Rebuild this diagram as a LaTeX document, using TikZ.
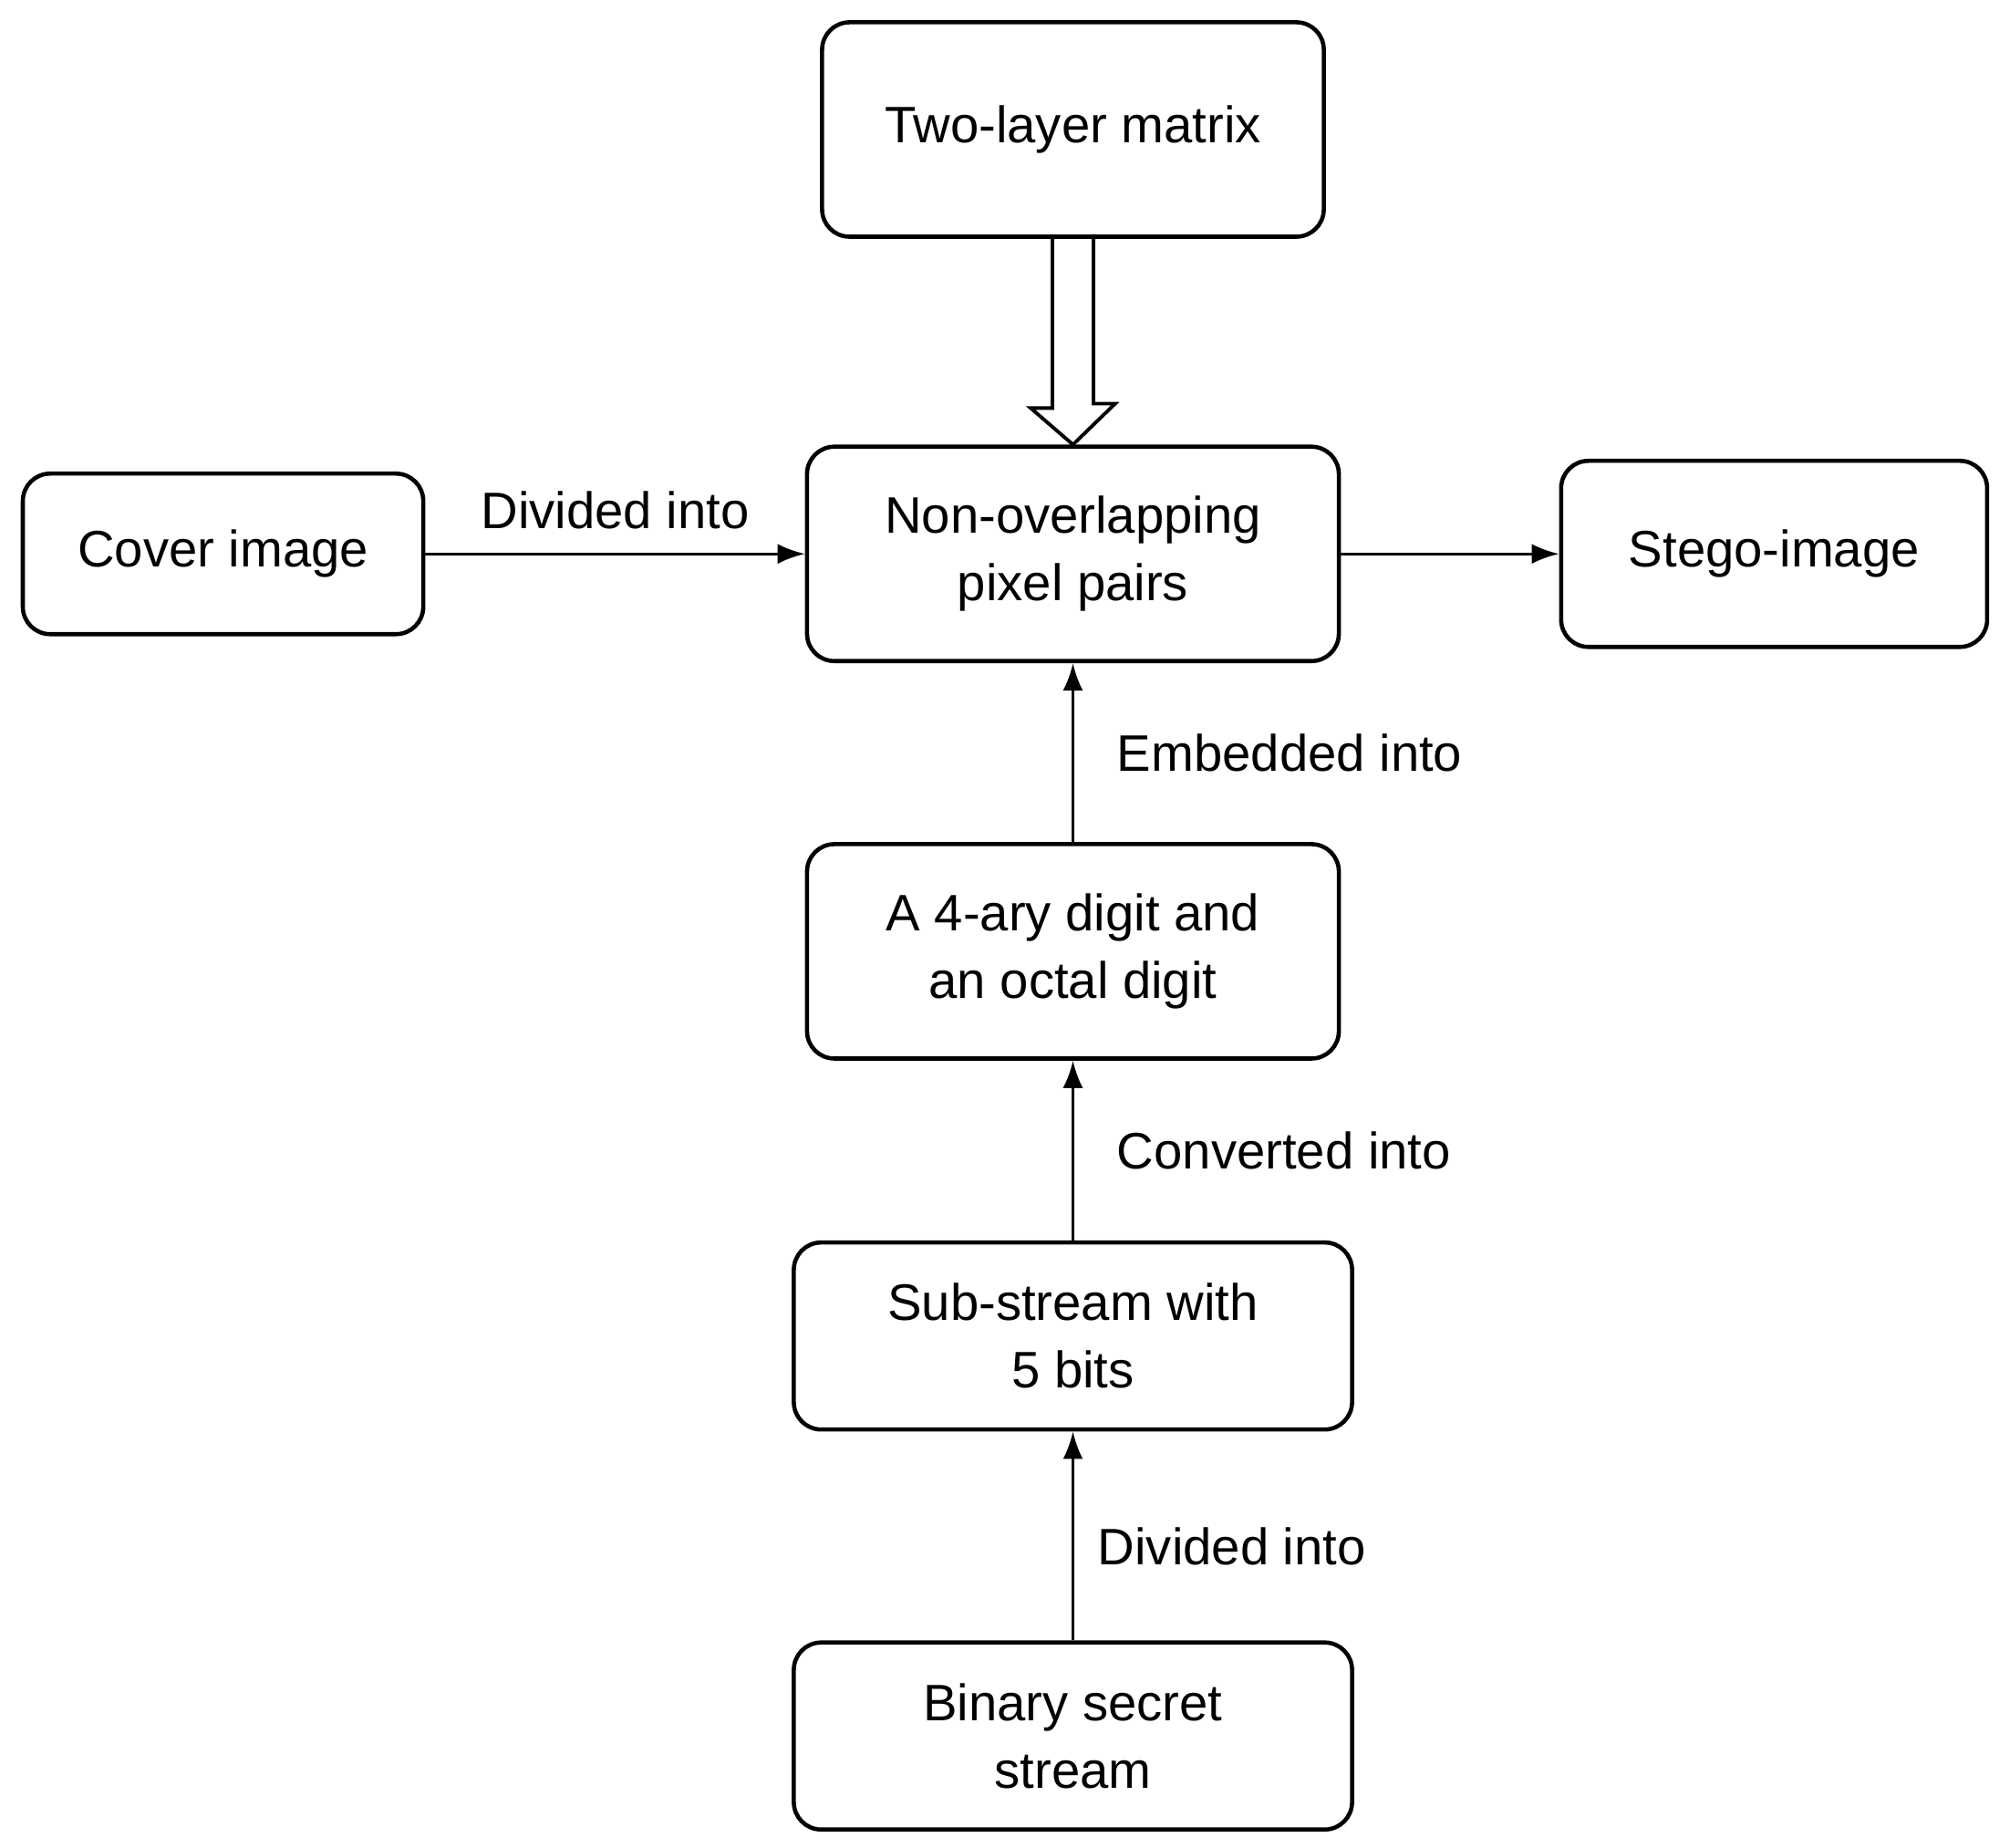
\documentclass[tikz,border=0pt]{standalone}
\usepackage{fontspec}
\setmainfont{Liberation Sans}
\usetikzlibrary{arrows.meta}
\begin{document}
\begin{tikzpicture}
    [ x=0.01406cm, y=-0.01406cm
    , block/.style={draw, line width=1.3pt, rounded corners=0.3cm, align=center, font=\fontsize{16}{21}\selectfont, inner sep=0pt}
    , lbl/.style={font=\fontsize{16}{21}\selectfont}
    , flow/.style={-{Latex[length=0.3cm,width=0.22cm]}, line width=0.9pt}
    ]
\useasboundingbox (0,0) rectangle (1568,1441);
\node[block, minimum width=5.5cm, minimum height=2.35cm] (matrix) at (837,101) {Two-layer matrix};
\node[block, minimum width=4.39cm, minimum height=1.76cm] (cover) at (174,432) {Cover image};
\node[block, minimum width=5.83cm, minimum height=2.35cm] (pairs) at (837,432) {Non-overlapping\\pixel pairs};
\node[block, minimum width=4.67cm, minimum height=2.04cm] (stego) at (1384,432) {Stego-image};
\node[block, minimum width=5.83cm, minimum height=2.35cm] (digits) at (837,742) {A 4-ary digit and\\an octal digit};
\node[block, minimum width=6.12cm, minimum height=2.05cm] (sub) at (837,1042) {Sub-stream with\\5 bits};
\node[block, minimum width=6.12cm, minimum height=2.05cm] (binary) at (837,1354) {Binary secret\\stream};

% hollow arrow
\draw[line width=1.1pt] (matrix.south) ++(-16,0) -- ++(0,132) -- ++(-17,0) -- (pairs.north) -- ++(33,-32) -- ++(-17,0) -- ++(0,-132);

\draw[flow] (cover) -- node[lbl, above=4pt] {Divided into} (pairs);
\draw[flow] (pairs) -- (stego);
\draw[flow] (digits) -- node[lbl, right=10pt] {Embedded into} (pairs);
\draw[flow] (sub) -- node[lbl, right=10pt] {Converted into} (digits);
\draw[flow] (binary) -- node[lbl, right=4pt, pos=0.45] {Divided into} (sub);
\end{tikzpicture}
\end{document}
